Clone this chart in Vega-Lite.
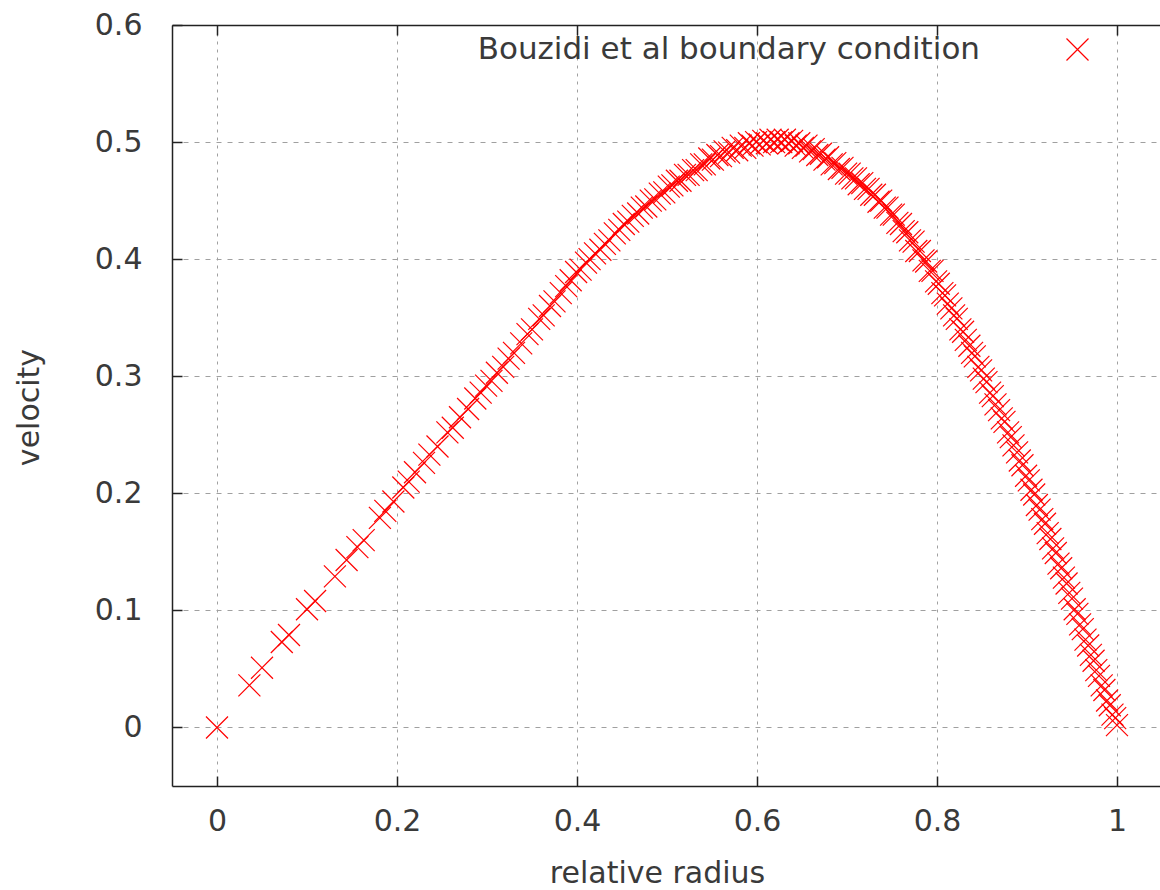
{
  "$schema": "https://vega.github.io/schema/vega-lite/v6.json",
  "width": 988,
  "height": 761,
  "autosize": {"type": "none"},
  "padding": {"left": 172, "top": 25, "right": 0, "bottom": 104},
  "background": "white",
  "config": {
    "view": {"stroke": null},
    "font": "DejaVu Sans",
    "axis": {
      "labelFont": "DejaVu Sans", "labelFontSize": 30, "labelColor": "#3a3a3a",
      "titleFont": "DejaVu Sans", "titleFontSize": 30, "titleColor": "#3a3a3a", "titleFontWeight": "normal",
      "domainColor": "#222222", "domainWidth": 1.5,
      "tickColor": "#222222", "tickWidth": 1.5, "tickSize": -10,
      "gridColor": "#a0a0a0", "gridWidth": 1
    },
    "legend": {"labelFont": "DejaVu Sans", "labelFontSize": 31, "labelColor": "#3a3a3a", "labelLimit": 0}
  },
  "data": {"values": [
    {"r":0,"v":0},{"r":0.036,"v":0.036},{"r":0.05,"v":0.051},{"r":0.072,"v":0.073},{"r":0.08,"v":0.079},
    {"r":0.1,"v":0.101},{"r":0.109,"v":0.108},{"r":0.131,"v":0.129},{"r":0.144,"v":0.143},{"r":0.156,"v":0.154},
    {"r":0.163,"v":0.16},{"r":0.181,"v":0.179},{"r":0.187,"v":0.185},{"r":0.196,"v":0.193},{"r":0.207,"v":0.205},
    {"r":0.213,"v":0.21},{"r":0.22,"v":0.218},{"r":0.23,"v":0.226},{"r":0.236,"v":0.233},{"r":0.245,"v":0.24},
    {"r":0.256,"v":0.252},{"r":0.262,"v":0.256},{"r":0.27,"v":0.265},{"r":0.279,"v":0.272},{"r":0.287,"v":0.281},
    {"r":0.293,"v":0.286},{"r":0.299,"v":0.292},{"r":0.305,"v":0.296},{"r":0.311,"v":0.303},{"r":0.318,"v":0.308},
    {"r":0.324,"v":0.315},{"r":0.33,"v":0.32},{"r":0.338,"v":0.328},{"r":0.345,"v":0.336},{"r":0.35,"v":0.34},
    {"r":0.358,"v":0.349},{"r":0.363,"v":0.352},{"r":0.37,"v":0.36},{"r":0.375,"v":0.364},{"r":0.382,"v":0.371},
    {"r":0.388,"v":0.377},{"r":0.393,"v":0.382},{"r":0.399,"v":0.389},{"r":0.404,"v":0.391},{"r":0.41,"v":0.397},
    {"r":0.414,"v":0.4},{"r":0.42,"v":0.405},{"r":0.426,"v":0.408},{"r":0.431,"v":0.413},{"r":0.436,"v":0.416},
    {"r":0.442,"v":0.422},{"r":0.447,"v":0.425},{"r":0.452,"v":0.43},{"r":0.457,"v":0.432},{"r":0.462,"v":0.437},
    {"r":0.468,"v":0.439},{"r":0.472,"v":0.444},{"r":0.477,"v":0.445},{"r":0.482,"v":0.45},{"r":0.487,"v":0.451},
    {"r":0.492,"v":0.456},{"r":0.497,"v":0.457},{"r":0.502,"v":0.462},{"r":0.506,"v":0.463},{"r":0.511,"v":0.467},
    {"r":0.515,"v":0.467},{"r":0.52,"v":0.472},{"r":0.524,"v":0.472},{"r":0.529,"v":0.476},{"r":0.533,"v":0.476},
    {"r":0.538,"v":0.481},{"r":0.542,"v":0.481},{"r":0.547,"v":0.486},{"r":0.551,"v":0.485},{"r":0.556,"v":0.489},
    {"r":0.56,"v":0.488},{"r":0.564,"v":0.492},{"r":0.569,"v":0.491},{"r":0.573,"v":0.495},{"r":0.578,"v":0.493},
    {"r":0.582,"v":0.497},{"r":0.587,"v":0.495},{"r":0.591,"v":0.499},{"r":0.595,"v":0.497},{"r":0.599,"v":0.5},
    {"r":0.603,"v":0.498},{"r":0.607,"v":0.501},{"r":0.611,"v":0.499},{"r":0.615,"v":0.502},{"r":0.619,"v":0.5},
    {"r":0.623,"v":0.502},{"r":0.627,"v":0.5},{"r":0.631,"v":0.502},{"r":0.635,"v":0.499},{"r":0.639,"v":0.501},
    {"r":0.643,"v":0.497},{"r":0.647,"v":0.499},{"r":0.651,"v":0.495},{"r":0.655,"v":0.497},{"r":0.659,"v":0.492},
    {"r":0.663,"v":0.494},{"r":0.667,"v":0.489},{"r":0.671,"v":0.49},{"r":0.675,"v":0.485},{"r":0.679,"v":0.487},
    {"r":0.683,"v":0.481},{"r":0.687,"v":0.482},{"r":0.691,"v":0.477},{"r":0.695,"v":0.478},{"r":0.699,"v":0.473},
    {"r":0.703,"v":0.473},{"r":0.706,"v":0.469},{"r":0.71,"v":0.469},{"r":0.713,"v":0.464},{"r":0.717,"v":0.465},
    {"r":0.72,"v":0.46},{"r":0.724,"v":0.46},{"r":0.727,"v":0.455},{"r":0.731,"v":0.455},{"r":0.735,"v":0.449},
    {"r":0.738,"v":0.45},{"r":0.742,"v":0.444},{"r":0.745,"v":0.444},{"r":0.749,"v":0.438},{"r":0.752,"v":0.438},
    {"r":0.756,"v":0.431},{"r":0.76,"v":0.43},{"r":0.763,"v":0.424},{"r":0.767,"v":0.423},{"r":0.77,"v":0.416},
    {"r":0.774,"v":0.415},{"r":0.777,"v":0.407},{"r":0.781,"v":0.407},{"r":0.785,"v":0.399},{"r":0.788,"v":0.398},
    {"r":0.792,"v":0.39},{"r":0.795,"v":0.39},{"r":0.799,"v":0.381},{"r":0.802,"v":0.379},{"r":0.806,"v":0.371},
    {"r":0.809,"v":0.369},{"r":0.812,"v":0.362},{"r":0.816,"v":0.358},{"r":0.819,"v":0.352},{"r":0.822,"v":0.349},
    {"r":0.826,"v":0.34},{"r":0.829,"v":0.338},{"r":0.832,"v":0.331},{"r":0.836,"v":0.326},{"r":0.839,"v":0.32},
    {"r":0.842,"v":0.317},{"r":0.846,"v":0.308},{"r":0.849,"v":0.305},{"r":0.852,"v":0.298},{"r":0.855,"v":0.295},
    {"r":0.859,"v":0.286},{"r":0.862,"v":0.283},{"r":0.865,"v":0.276},{"r":0.869,"v":0.271},{"r":0.872,"v":0.264},
    {"r":0.875,"v":0.261},{"r":0.879,"v":0.252},{"r":0.882,"v":0.248},{"r":0.885,"v":0.241},{"r":0.889,"v":0.235},
    {"r":0.892,"v":0.228},{"r":0.895,"v":0.224},{"r":0.899,"v":0.215},{"r":0.902,"v":0.211},{"r":0.905,"v":0.203},
    {"r":0.908,"v":0.199},{"r":0.911,"v":0.19},{"r":0.914,"v":0.186},{"r":0.917,"v":0.178},{"r":0.92,"v":0.174},
    {"r":0.923,"v":0.166},{"r":0.926,"v":0.161},{"r":0.929,"v":0.153},{"r":0.932,"v":0.149},{"r":0.935,"v":0.14},
    {"r":0.938,"v":0.136},{"r":0.941,"v":0.128},{"r":0.944,"v":0.123},{"r":0.947,"v":0.115},{"r":0.95,"v":0.11},
    {"r":0.953,"v":0.101},{"r":0.956,"v":0.097},{"r":0.959,"v":0.088},{"r":0.962,"v":0.084},{"r":0.965,"v":0.075},
    {"r":0.968,"v":0.07},{"r":0.971,"v":0.062},{"r":0.974,"v":0.057},{"r":0.977,"v":0.049},{"r":0.98,"v":0.044},
    {"r":0.983,"v":0.036},{"r":0.986,"v":0.032},{"r":0.989,"v":0.023},{"r":0.992,"v":0.019},{"r":0.995,"v":0.011},
    {"r":0.998,"v":0.008},{"r":1.0,"v":0.002}
  ]},
  "layer": [
    {
      "mark": {"type": "point", "shape": "M-1,-1L1,1M-1,1L1,-1", "filled": false, "size": 484, "strokeWidth": 1.2, "opacity": 1},
      "encoding": {
        "x": {"field": "r", "type": "quantitative",
          "scale": {"domain": [-0.05, 1.0478], "nice": false, "zero": false},
          "axis": {"orient": "bottom", "values": [0, 0.2, 0.4, 0.6, 0.8, 1], "format": "~g",
            "grid": true, "gridDash": [3, 5], "labelPadding": 30,
            "title": "relative radius", "titleX": 485, "titleY": 96, "titleBaseline": "alphabetic", "titleAlign": "center"}},
        "y": {"field": "v", "type": "quantitative",
          "scale": {"domain": [-0.05, 0.6], "nice": false, "zero": false},
          "axis": {"orient": "left", "values": [0, 0.1, 0.2, 0.3, 0.4, 0.5, 0.6], "format": "~g",
            "grid": true, "gridDash": [5, 6], "labelPadding": 40,
            "title": "velocity", "titleX": -134, "titleY": 382, "titleAngle": -90, "titleBaseline": "alphabetic", "titleAlign": "center"}},
        "color": {"datum": "Bouzidi et al boundary condition", "type": "nominal",
          "scale": {"range": ["#ff0000"]},
          "legend": {"title": null, "orient": "none", "legendX": 890, "legendY": 9,
            "symbolType": "M-1,-1L1,1M-1,1L1,-1", "symbolSize": 484, "symbolStrokeWidth": 1.2,
            "symbolFillColor": "transparent", "labelAlign": "right", "labelOffset": -113, "labelLimit": 0, "padding": 0}}
      }
    },
    {
      "mark": {"type": "point", "opacity": 0},
      "encoding": {
        "x": {"field": "r", "type": "quantitative",
          "axis": {"orient": "top", "values": [0, 0.2, 0.4, 0.6, 0.8, 1], "labels": false, "grid": false, "title": null}},
        "y": {"field": "v", "type": "quantitative"}
      }
    }
  ],
  "resolve": {"axis": {"x": "independent"}}
}
